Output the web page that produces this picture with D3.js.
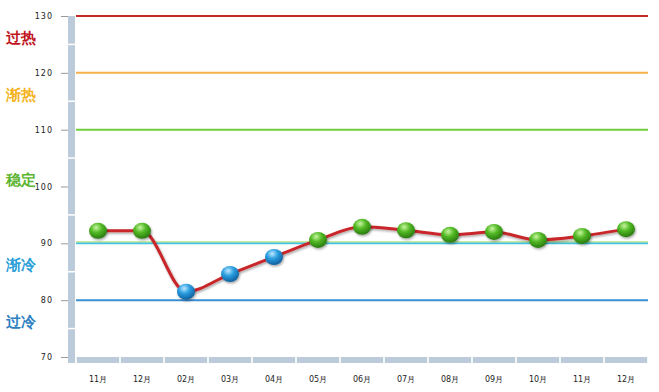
<!DOCTYPE html>
<html>
<head>
<meta charset="utf-8">
<script src="https://cdn.jsdelivr.net/npm/d3@7"></script>
<style>
body{margin:0;background:#fff;}
text{font-family:"DejaVu Sans",Arial,sans-serif;}
</style>
</head>
<body>
<svg id="chart"></svg>
<script>
var months = ['11月','12月','02月','03月','04月','05月','06月','07月','08月','09月','10月','11月','12月'];
var values = [92.2, 92.2, 81.5, 84.6, 87.6, 90.6, 92.9, 92.3, 91.5, 92.0, 90.6, 91.3, 92.5];
var yTicks = [70, 80, 90, 100, 110, 120, 130];
var levelNames = ['过热', '渐热', '稳定', '渐冷', '过冷'];
var levelPos = [127, 117, 102, 87, 77];
var levelColors = ['#c0141c', '#f5b324', '#5cb531', '#2a9fd8', '#2e7fc2'];
var refValues = [130, 120, 110, 90, 80];
var refColors = ['#c62828', '#f6b04a', '#6fcc3a', '#43c3de', '#3a8fd6'];

var W = 659, H = 392;
var svg = d3.select('#chart').attr('width', W).attr('height', H);

var x = d3.scaleBand().domain(d3.range(months.length)).range([76, 648]);
var y = d3.scaleLinear().domain([70, 130]).range([357, 16]);

var defs = svg.append('defs');
function ballGrad(id, light, mid, dark){
  var g = defs.append('radialGradient').attr('id', id)
    .attr('cx', '40%').attr('cy', '30%').attr('r', '70%');
  g.append('stop').attr('offset', '0%').attr('stop-color', light);
  g.append('stop').attr('offset', '45%').attr('stop-color', mid);
  g.append('stop').attr('offset', '100%').attr('stop-color', dark);
}
ballGrad('gGreen', '#c8f5a0', '#52b925', '#2a7a10');
ballGrad('gBlue', '#bfe8ff', '#2a9ee0', '#11609e');
var sh = defs.append('filter').attr('id', 'shadow').attr('x', '-50%').attr('y', '-50%').attr('width', '200%').attr('height', '200%');
sh.append('feDropShadow').attr('dx', 1).attr('dy', 1.5).attr('stdDeviation', 1.2).attr('flood-color', '#000').attr('flood-opacity', 0.35);

// y axis bar
svg.append('rect').attr('x', 68).attr('y', 16).attr('width', 7).attr('height', 347).attr('fill', '#bccbd9');
d3.range(75, 130, 5).forEach(function(v){
  if (v % 10 === 5) {
    svg.append('line').attr('x1', 68).attr('x2', 75).attr('y1', y(v)).attr('y2', y(v))
      .attr('stroke', '#fff').attr('stroke-width', 1.5);
  }
});

// y ticks
var yAxis = d3.axisLeft(y).tickValues(yTicks).tickSize(7).tickPadding(8);
var gy = svg.append('g').attr('transform', 'translate(68,0)').call(yAxis);
gy.select('.domain').remove();
gy.selectAll('line').attr('stroke', '#999');
gy.selectAll('text').attr('font-size', 8).attr('fill', '#222').attr('letter-spacing', 1);

// bottom bar segments
months.forEach(function(m, i){
  svg.append('rect').attr('x', x(i) + 0.8).attr('y', 357).attr('width', x.bandwidth() - 1.6).attr('height', 6)
    .attr('fill', '#bccbd9');
});

var xAxis = d3.axisBottom(x).tickFormat(function(i){ return months[i]; }).tickSize(0).tickPadding(0);
var gx = svg.append('g').attr('transform', 'translate(0,376)').call(xAxis);
gx.select('.domain').remove();
gx.selectAll('text').attr('font-size', 8).attr('fill', '#222');

// reference lines
refValues.forEach(function(v, i){
  svg.append('line').attr('x1', 76).attr('x2', 648).attr('y1', y(v)).attr('y2', y(v))
    .attr('stroke', refColors[i]).attr('stroke-width', 2);
});
svg.append('line').attr('x1', 76).attr('x2', 648).attr('y1', y(90) - 1.5).attr('y2', y(90) - 1.5)
  .attr('stroke', '#b5e07a').attr('stroke-width', 1);

// level labels
levelNames.forEach(function(n, i){
  svg.append('text').attr('x', 6).attr('y', y(levelPos[i]) + 10).text(n)
    .attr('font-family', '"Noto Sans CJK SC", sans-serif').attr('font-weight', 'bold')
    .attr('font-size', 15).attr('fill', levelColors[i]);
});

// line
var line = d3.line()
  .x(function(d, i){ return x(i) + x.bandwidth() / 2; })
  .y(function(d){ return y(d); })
  .curve(d3.curveMonotoneX);
svg.append('path').datum(values).attr('d', line).attr('fill', 'none')
  .attr('stroke', '#c8282a').attr('stroke-width', 3).attr('filter', 'url(#shadow)');

// points
svg.selectAll('.pt').data(values).enter().append('ellipse').attr('class', 'pt')
  .attr('cx', function(d, i){ return x(i) + x.bandwidth() / 2; })
  .attr('cy', function(d){ return y(d); })
  .attr('rx', 9).attr('ry', 8)
  .attr('fill', function(d){ return d >= 90 ? 'url(#gGreen)' : 'url(#gBlue)'; })
  .attr('filter', 'url(#shadow)');
</script>
</body>
</html>
